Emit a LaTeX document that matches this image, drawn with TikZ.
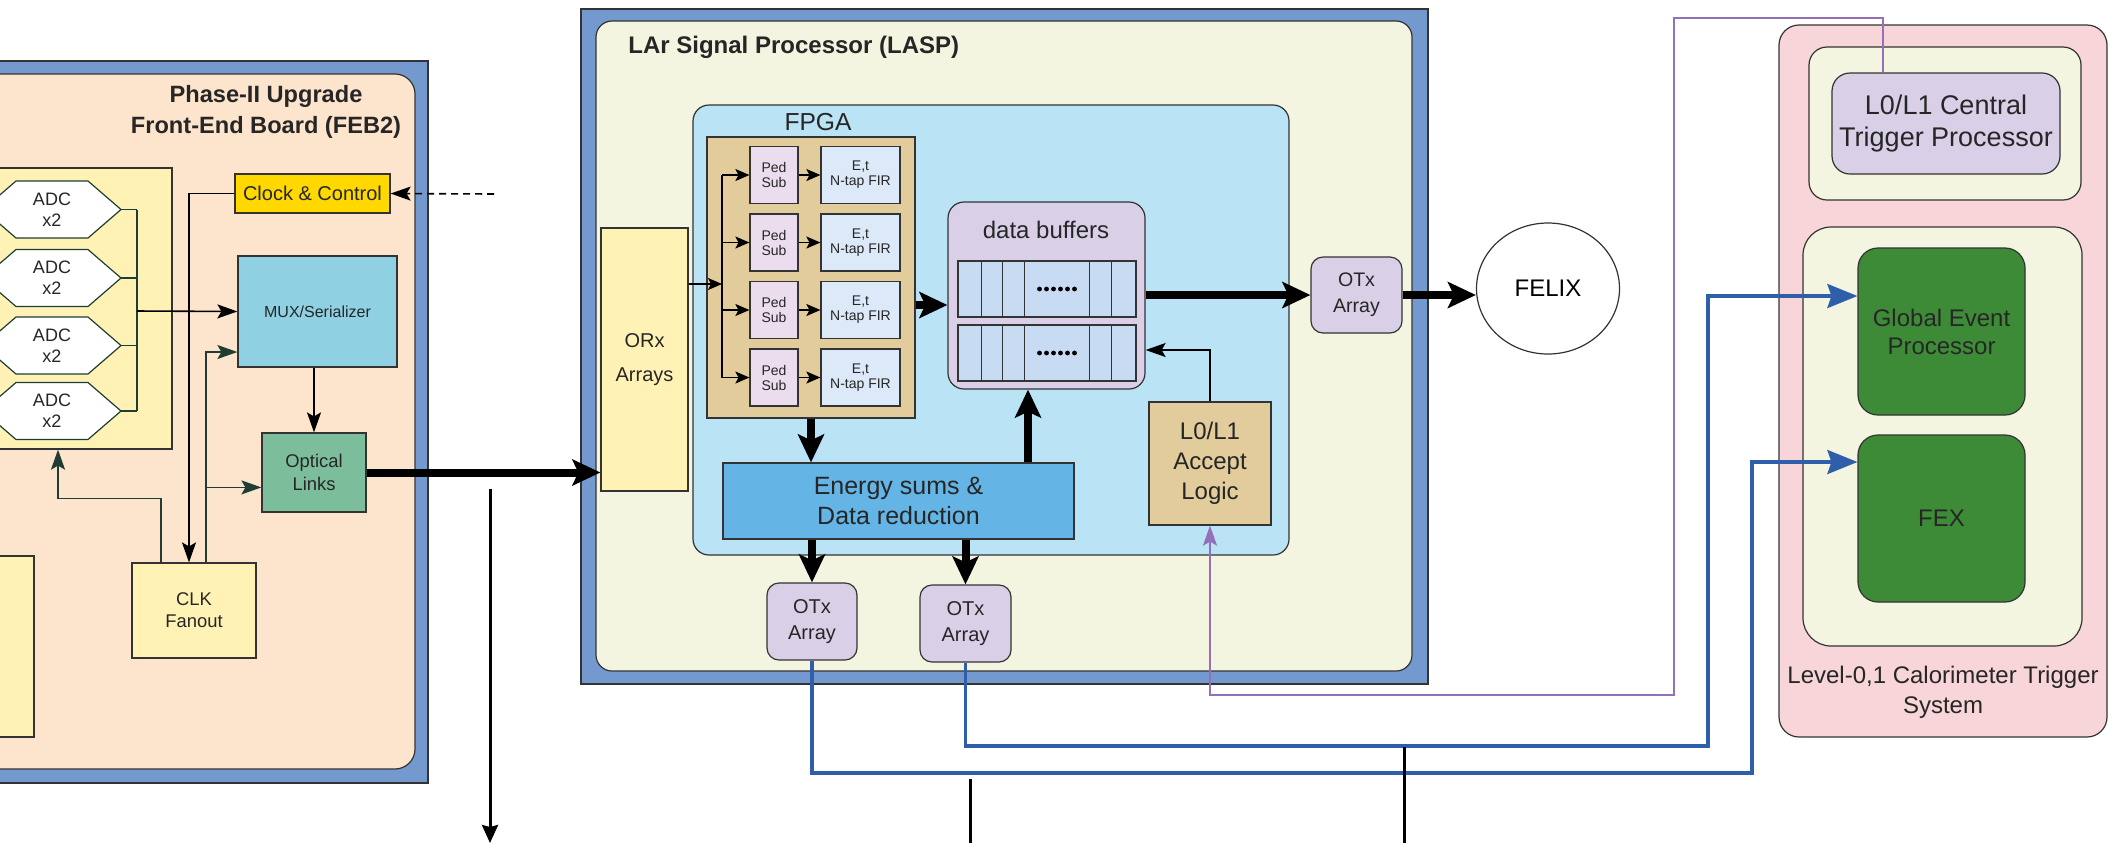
\documentclass[tikz,border=0pt]{standalone}
\usepackage{fontspec}
\setmainfont{Liberation Sans}
\usetikzlibrary{arrows.meta,calc,shapes.geometric}
\definecolor{frx}{HTML}{7499CF}
\definecolor{pcx}{HTML}{FDE4CC}
\definecolor{ylx}{HTML}{FFF2B4}
\definecolor{gdx}{HTML}{FFD800}
\definecolor{mxx}{HTML}{8FD0E2}
\definecolor{olx}{HTML}{7CBE9C}
\definecolor{crx}{HTML}{F3F5E0}
\definecolor{fbx}{HTML}{BAE3F6}
\definecolor{tnx}{HTML}{E2CC9B}
\definecolor{pkx}{HTML}{EBDDEE}
\definecolor{fix}{HTML}{DCE9F9}
\definecolor{lvx}{HTML}{D9D0E8}
\definecolor{cex}{HTML}{C7DCF2}
\definecolor{enx}{HTML}{64B5E6}
\definecolor{tpx}{HTML}{F8D5D8}
\definecolor{gnx}{HTML}{3E8B37}
\definecolor{blx}{HTML}{2F5EAA}
\definecolor{pux}{HTML}{9570BA}
\definecolor{lnx}{HTML}{1F3D33}
\tikzset{
    box/.style={draw=black!80,line width=0.6pt,inner sep=0pt,align=center,text=black!85},
    sz/.style 2 args={minimum width=#1*0.5pt,minimum height=#2*0.5pt},
    lbl/.style={inner sep=0pt,align=center,text=black!85},
    hexa/.style={draw=lnx,line width=0.6pt,fill=white},
    arr/.style={line width=0.8pt,-{Stealth[length=10pt,width=7pt,inset=2pt]}},
    sarr/.style={line width=0.7pt,-{Stealth[length=7pt,width=6pt,inset=1.5pt]}},
    garr/.style={arr,draw=lnx},
    fat/.style={line width=4pt,-{Stealth[length=14pt,width=13pt,inset=3pt]}},
    blu/.style={draw=blx,line width=1.6pt,-{Stealth[length=15pt,width=12pt,inset=2pt]}},
    prp/.style={draw=pux,line width=1pt,-{Stealth[length=10pt,width=7pt,inset=2pt]}}
}
\begin{document}
\begin{tikzpicture}[x=0.5pt,y=-0.5pt]
    \useasboundingbox (0,0) rectangle (2109,843);
    \clip (0,0) rectangle (2109,843);
    % front-end board
    \node [box,fill=frx,sz={470}{722}] (febout) at (193,422) {};
    \node [box,fill=pcx,rounded corners=10pt,sz={445}{695}] (febin) at (192.5,421.5) {};
    \node [lbl,font=\fontsize{11.8}{15.5}\selectfont\bfseries] (febttl) at (266,112) {Phase-II Upgrade\\Front-End Board (FEB2)};
    \node [box,fill=ylx,sz={192}{281}] (adcbox) at (76,308.5) {};
    \draw [line width=0.8pt,draw=lnx] (137,209.5) -- (137,411);
    \foreach \i/\y in {1/209.5,2/278,3/345.5,4/411} {
        \draw [hexa] (-17,\y) -- (16,\y-28.5) -- (88,\y-28.5) -- (121,\y)
            -- (88,\y+28.5) -- (16,\y+28.5) -- cycle;
        \node [lbl,font=\fontsize{9}{10.5}\selectfont] (adc\i) at (52,\y) {ADC\\x2};
        \coordinate (adcout\i) at (121,\y);
        \draw [line width=0.8pt,draw=lnx] (adcout\i) -- ++(16,0);
    }
    \node [box,fill=gdx,sz={155}{39},font=\fontsize{10}{12}\selectfont] (clk) at (312.5,193.5) {Clock \& Control};
    \node [box,fill=mxx,sz={159}{111},font=\fontsize{8}{10}\selectfont] (mux) at (317.5,311.5) {MUX/Serializer};
    \node [box,fill=olx,sz={104}{79},font=\fontsize{9.2}{11.5}\selectfont] (optl) at (314,472.5) {Optical\\Links};
    \node [box,fill=ylx,sz={124}{95},font=\fontsize{9.2}{11}\selectfont] (clkfan) at (194,610.5) {CLK\\Fanout};
    \node [box,fill=ylx,sz={54}{181}] (feblow) at (7,646.5) {};
    % LASP
    \node [box,fill=frx,sz={847}{675}] (laspout) at (1004.5,346.5) {};
    \node [box,fill=crx,rounded corners=8pt,sz={816}{650}] (laspin) at (1004,346) {};
    \node [lbl,anchor=west,font=\fontsize{12}{14}\selectfont\bfseries] (laspttl) at (628,47) {LAr Signal Processor (LASP)};
    \node [box,fill=fbx,rounded corners=8pt,sz={596}{450}] (fpga) at (991,330) {};
    \node [lbl,font=\fontsize{12.3}{14}\selectfont] (fpgattl) at (818,122) {FPGA};
    \node [box,fill=ylx,sz={87}{263},font=\fontsize{10}{17}\selectfont] (orx) at (644.5,359.5) {ORx\\Arrays};
    \node [box,fill=tnx,sz={208}{281}] (pipe) at (811,277.5) {};
    \coordinate (pbus) at (722,284);
    \draw [line width=0.7pt] (722,175) -- (722,377.5);
    \foreach \i in {1,...,4} {
        \node [box,fill=pkx,sz={48}{57},font=\fontsize{7}{7.5}\selectfont] (ped\i) at (774,107.5+67.5*\i) {Ped\\Sub};
        \node [box,fill=fix,sz={79}{57},font=\fontsize{7}{7.5}\selectfont] (fir\i) at (860.5,107.5+67.5*\i) {E,t\\N-tap FIR};
        \draw [sarr] (ped\i.west -| pbus) -- (ped\i.west);
        \draw [sarr] (ped\i) -- (fir\i);
    }
    \node [box,fill=lvx,rounded corners=8pt,sz={197}{187}] (buf) at (1046.5,295.5) {};
    \node [lbl,font=\fontsize{12}{14}\selectfont] (buflbl) at (1046,230) {data buffers};
    \foreach \r/\y in {1/289,2/353} {
        \node [box,fill=cex,sz={178}{56}] (row\r) at (1047,\y) {};
        \foreach \d in {24,45,67,132,154}
            \draw [line width=0.6pt,black!80] ($(row\r.north west)+(\d,0)$) -- ($(row\r.south west)+(\d,0)$);
        \foreach \k in {0,...,5}
            \fill ($(row\r.center)+(-7.5+7*\k,0)$) circle[radius=1.2pt];
    }
    \node [box,fill=enx,sz={351}{76},font=\fontsize{12.5}{15}\selectfont] (esum) at (898.5,501) {Energy sums \&\\Data reduction};
    \node [box,fill=tnx,sz={122}{123},font=\fontsize{12}{15}\selectfont] (acc) at (1210,463.5) {L0/L1\\Accept\\Logic};
    \node [box,fill=lvx,rounded corners=6pt,sz={90}{77},font=\fontsize{10}{13}\selectfont] (otxa) at (812,621.5) {OTx\\Array};
    \node [box,fill=lvx,rounded corners=6pt,sz={91}{77},font=\fontsize{10}{13}\selectfont] (otxb) at (965.5,623.5) {OTx\\Array};
    \node [box,fill=lvx,rounded corners=6pt,sz={91}{76},font=\fontsize{9.8}{13}\selectfont] (otxc) at (1356.5,295) {OTx\\Array};
    \node [ellipse,draw=black!80,line width=0.6pt,fill=white,inner sep=0pt,sz={143}{131},font=\fontsize{12}{14}\selectfont] (felix) at (1548,288.5) {FELIX};
    % trigger system
    \node [box,fill=tpx,rounded corners=10pt,sz={328}{712}] (trig) at (1943,381) {};
    \node [box,fill=crx,rounded corners=9pt,sz={272}{153}] (trigtop) at (1945,123.5) {};
    \node [box,fill=lvx,rounded corners=9pt,sz={228}{101},font=\fontsize{13.5}{16}\selectfont] (ctp) at (1946,123.5) {L0/L1 Central\\Trigger Processor};
    \node [box,fill=crx,rounded corners=14pt,sz={279}{419}] (trigbot) at (1942.5,436.5) {};
    \node [box,fill=gnx,rounded corners=10pt,sz={167}{167},font=\fontsize{12}{14}\selectfont] (gep) at (1941.5,331.5) {Global Event\\Processor};
    \node [box,fill=gnx,rounded corners=10pt,sz={167}{167},font=\fontsize{12}{14}\selectfont] (fex) at (1941.5,518.5) {FEX};
    \node [lbl,font=\fontsize{12}{15}\selectfont] (triglbl) at (1943,692) {Level-0,1 Calorimeter Trigger\\System};
    % connections
    \coordinate (adcbus) at (137,311);
    \draw [arr] (adcbus) -- (mux.west);
    \coordinate (ttcin) at (494,194);
    \draw [arr,dash pattern=on 3.5pt off 2.5pt] (ttcin) -- (clk.east);
    \draw [arr] (clk.west) -| ($(clkfan.north)+(-5,0)$);
    \draw [garr] ($(clkfan.north)+(12,0)$) |- ($(mux.west)+(0,40.5)$);
    \coordinate (fanbr) at ($(clkfan.north)+(12,-75)$);
    \draw [garr] (fanbr) -- (fanbr -| optl.west);
    \draw [garr] ($(clkfan.north)+(-33,0)$) |- ($(adcbox.south)+(-18,49)$) -- ($(adcbox.south)+(-18,0)$);
    \draw [arr] (mux.south -| optl.north) -- (optl.north);
    \draw [fat] (optl.east) -- (optl.east -| orx.west);
    \coordinate (febdn) at (490,489);
    \coordinate (febend) at (490,843);
    \draw [line width=1.5pt,-{Stealth[length=9pt,width=8pt,inset=1pt]}] (febdn) -- (febend);
    \draw [sarr] (orx.east |- pbus) -- (pbus);
    \draw [fat] ($(pipe.east)+(0,27.5)$) -- ($(buf.west)+(0,9.5)$);
    \draw [fat] (pipe.south) -- (pipe.south |- esum.north);
    \draw [fat] ($(esum.north)+(129.5,0)$) -- ($(buf.south)+(-18.5,0)$);
    \draw [fat] (esum.south -| otxa.north) -- (otxa.north);
    \draw [fat] (esum.south -| otxb.north) -- (otxb.north);
    \draw [arr] (acc.north) |- ($(buf.east)+(0,54.5)$);
    \draw [fat] (buf.east |- otxc.west) -- (otxc.west);
    \draw [fat] (otxc.east) -- (otxc.east -| felix.west);
    \draw [blu] (otxa.south) |- (1752,773) |- ($(fex.west)+(0,-56.5)$);
    \draw [blu] (otxb.south) |- (1708,746) |- ($(gep.west)+(0,-35.5)$);
    \draw [prp] ($(ctp.north)+(-63,0)$) |- (1674,18) |- (1210,695) -- (acc.south);
    \coordinate (lnA) at (970,779);
    \coordinate (lnB) at (1404,747);
    \draw [line width=1.5pt] (lnA) -- (lnA |- febend);
    \draw [line width=1.5pt] (lnB) -- (lnB |- febend);
\end{tikzpicture}
\end{document}
